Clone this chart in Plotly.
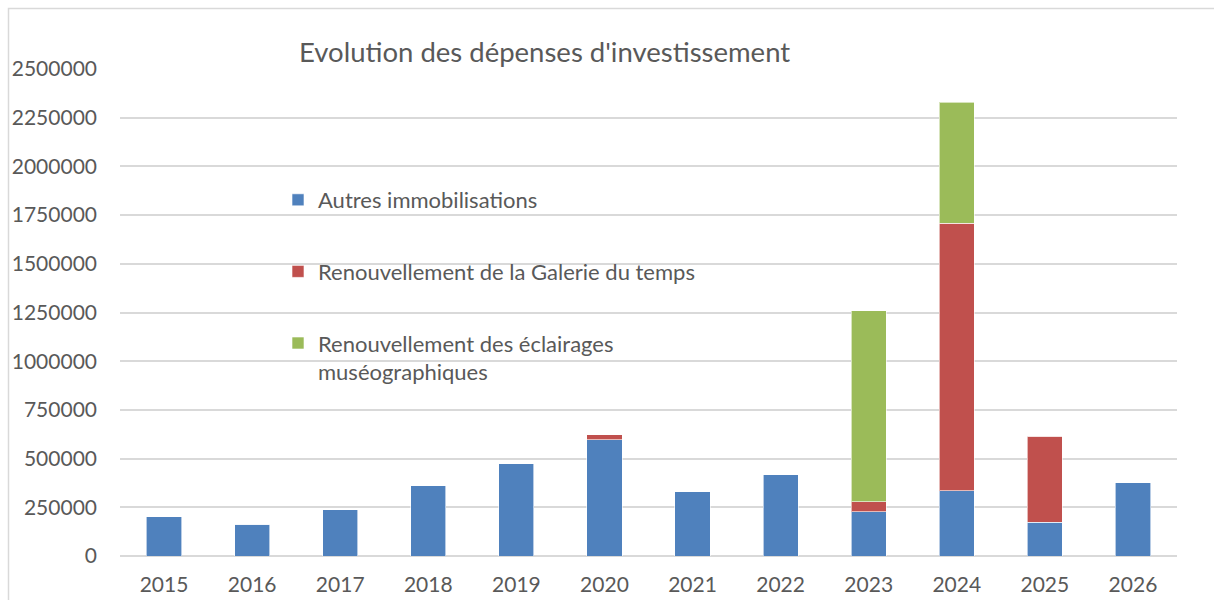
import plotly.graph_objects as go

years = ["2015", "2016", "2017", "2018", "2019", "2020", "2021", "2022", "2023", "2024", "2025", "2026"]
autres = [201000, 163000, 237000, 361000, 474000, 598000, 330000, 416000, 226000, 334000, 173000, 375000]
galerie = [0, 0, 0, 0, 0, 24000, 0, 0, 53000, 1373000, 443000, 0]
eclairages = [0, 0, 0, 0, 0, 0, 0, 0, 981000, 622000, 0, 0]

series_names = ["Autres immobilisations",
                "Renouvellement de la Galerie du temps",
                "Renouvellement des éclairages<br>muséographiques"]
colors = ["#4F81BD", "#C0504D", "#9BBB59"]
y_ticks = list(range(0, 2500001, 250000))

W, H = 1214, 600
L, R, T, B = 120, 37, 69, 44
pw, ph = W - L - R, H - T - B

fig = go.Figure()
for i, (name, vals) in enumerate(zip(series_names, [autres, galerie, eclairages])):
    fig.add_trace(go.Bar(
        x=years, y=vals, name=name, legendgroup=f"g{i}",
        marker=dict(color=colors[i], line=dict(color="rgba(255,255,255,0.6)", width=1)),
    ))

font = "Lato, 'Open Sans', sans-serif"
fig.update_layout(
    width=W, height=H,
    barmode="stack", bargap=0.6,
    plot_bgcolor="white", paper_bgcolor="white",
    margin=dict(l=L, r=R, t=T, b=B, pad=0, autoexpand=False),
    font=dict(family=font, color="#595959", size=21),
    showlegend=True,
    legend=dict(
        x=(278 - L) / pw, y=(556 - 179) / ph, xanchor="left", yanchor="top",
        traceorder="grouped", tracegroupgap=40, valign="top",
        font=dict(size=22, color="#595959"), bgcolor="rgba(0,0,0,0)",
        itemwidth=30,
    ),
    xaxis=dict(showgrid=False, showline=False, ticks="", tickfont=dict(size=21),
               ticklabelstandoff=14, automargin=False),
    yaxis=dict(range=[0, 2500000], tickvals=y_ticks, ticktext=[str(v) for v in y_ticks],
               showgrid=True, gridcolor="#D9D9D9", gridwidth=1.5,
               zeroline=True, zerolinecolor="#D9D9D9", zerolinewidth=1.5,
               showline=False, ticks="", tickfont=dict(size=21), ticklabelstandoff=22,
               automargin=False),
)

fig.add_annotation(
    text="Evolution des dépenses d'investissement",
    xref="paper", yref="paper",
    x=(544 - L) / pw, y=(556 - 52) / ph, xanchor="center", yanchor="middle",
    showarrow=False, font=dict(size=27.5, color="#595959", family=font),
)

fig.add_shape(
    type="rect", xref="paper", yref="paper",
    x0=(8.5 - L) / pw, x1=(1300 - L) / pw,
    y0=(556 - 700) / ph, y1=(556 - 8.5) / ph,
    line=dict(color="#D9D9D9", width=1.5), fillcolor="rgba(0,0,0,0)", layer="below",
)

fig.write_html("out.html", config={"displayModeBar": False},
               post_script="document.body.style.margin='0';document.body.style.overflow='hidden';")
